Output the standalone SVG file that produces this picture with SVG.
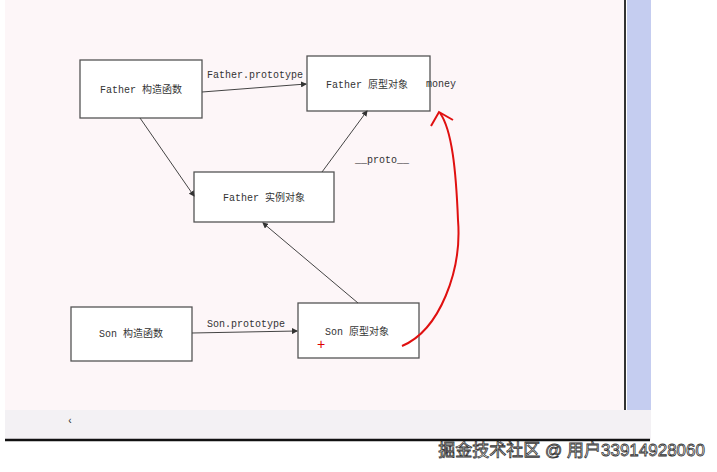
<svg xmlns="http://www.w3.org/2000/svg" width="717" height="472" viewBox="0 0 717 472">
<style>
.box{fill:#fff;stroke:#555;stroke-width:1.3}
.t{font-family:"Liberation Mono","Noto Sans CJK SC",monospace;font-size:10px;fill:#333}
.l{stroke:#444;stroke-width:1;fill:none}
</style>
<defs><marker id="a" markerWidth="6" markerHeight="6" refX="5" refY="3" orient="auto"><path d="M0,0L6,3L0,6z" fill="#333"/></marker></defs>
<rect width="717" height="472" fill="#fff"/>
<rect x="5" y="0" width="620" height="410" fill="#fdf6f8"/>
<rect x="627" y="0" width="24" height="410" fill="#c5cdf0"/>
<line x1="625" y1="0" x2="625" y2="410" stroke="#333" stroke-width="2"/>
<rect x="5" y="410" width="646" height="30" fill="#f3f1f4"/>
<text x="67" y="424" class="t">‹</text>
<line x1="5" y1="440" x2="650" y2="440" stroke="#111" stroke-width="2.5"/>
<g id="father-ctor"><rect class="box" x="80" y="60" width="122" height="58"/><text class="t" x="141" y="93" text-anchor="middle">Father 构造函数</text></g>
<g id="father-proto"><rect class="box" x="307" y="56" width="123" height="55"/><text class="t" x="367" y="88" text-anchor="middle">Father 原型对象</text><text class="t" x="426" y="87">money</text></g>
<g id="father-inst"><rect class="box" x="194" y="172" width="140" height="50"/><text class="t" x="264" y="201" text-anchor="middle">Father 实例对象</text></g>
<g id="son-ctor"><rect class="box" x="71" y="307" width="121" height="54"/><text class="t" x="131" y="337" text-anchor="middle">Son 构造函数</text></g>
<g id="son-proto"><rect class="box" x="298" y="303" width="121" height="55"/><text class="t" x="357" y="335" text-anchor="middle">Son 原型对象</text><text x="317" y="349" font-family="Liberation Sans,sans-serif" font-size="14" fill="#d00">+</text></g>
<g id="connectors">
<line class="l" x1="202" y1="92" x2="306" y2="84" marker-end="url(#a)"/>
<text class="t" x="207" y="78">Father.prototype</text>
<line class="l" x1="140" y1="118" x2="194" y2="196" marker-end="url(#a)"/>
<line class="l" x1="322" y1="172" x2="367" y2="111" marker-end="url(#a)"/>
<text class="t" x="355" y="163">__proto__</text>
<line class="l" x1="358" y1="303" x2="263" y2="223" marker-end="url(#a)"/>
<line class="l" x1="192" y1="333" x2="297" y2="331" marker-end="url(#a)"/>
<text class="t" x="207" y="327">Son.prototype</text>
<path d="M402,346 C440,330 462,270 458,220 C456,170 452,130 440,113" fill="none" stroke="#e01010" stroke-width="2"/>
<path d="M431,126 L439,112 L453,120" fill="none" stroke="#e01010" stroke-width="2"/>
</g>
<text x="705" y="456" text-anchor="end" font-family="Liberation Sans,Noto Sans CJK SC,sans-serif" font-size="17" fill="#fff" stroke="#333" stroke-width="0.8">掘金技术社区 @ 用户3391492806​0</text>
</svg>
